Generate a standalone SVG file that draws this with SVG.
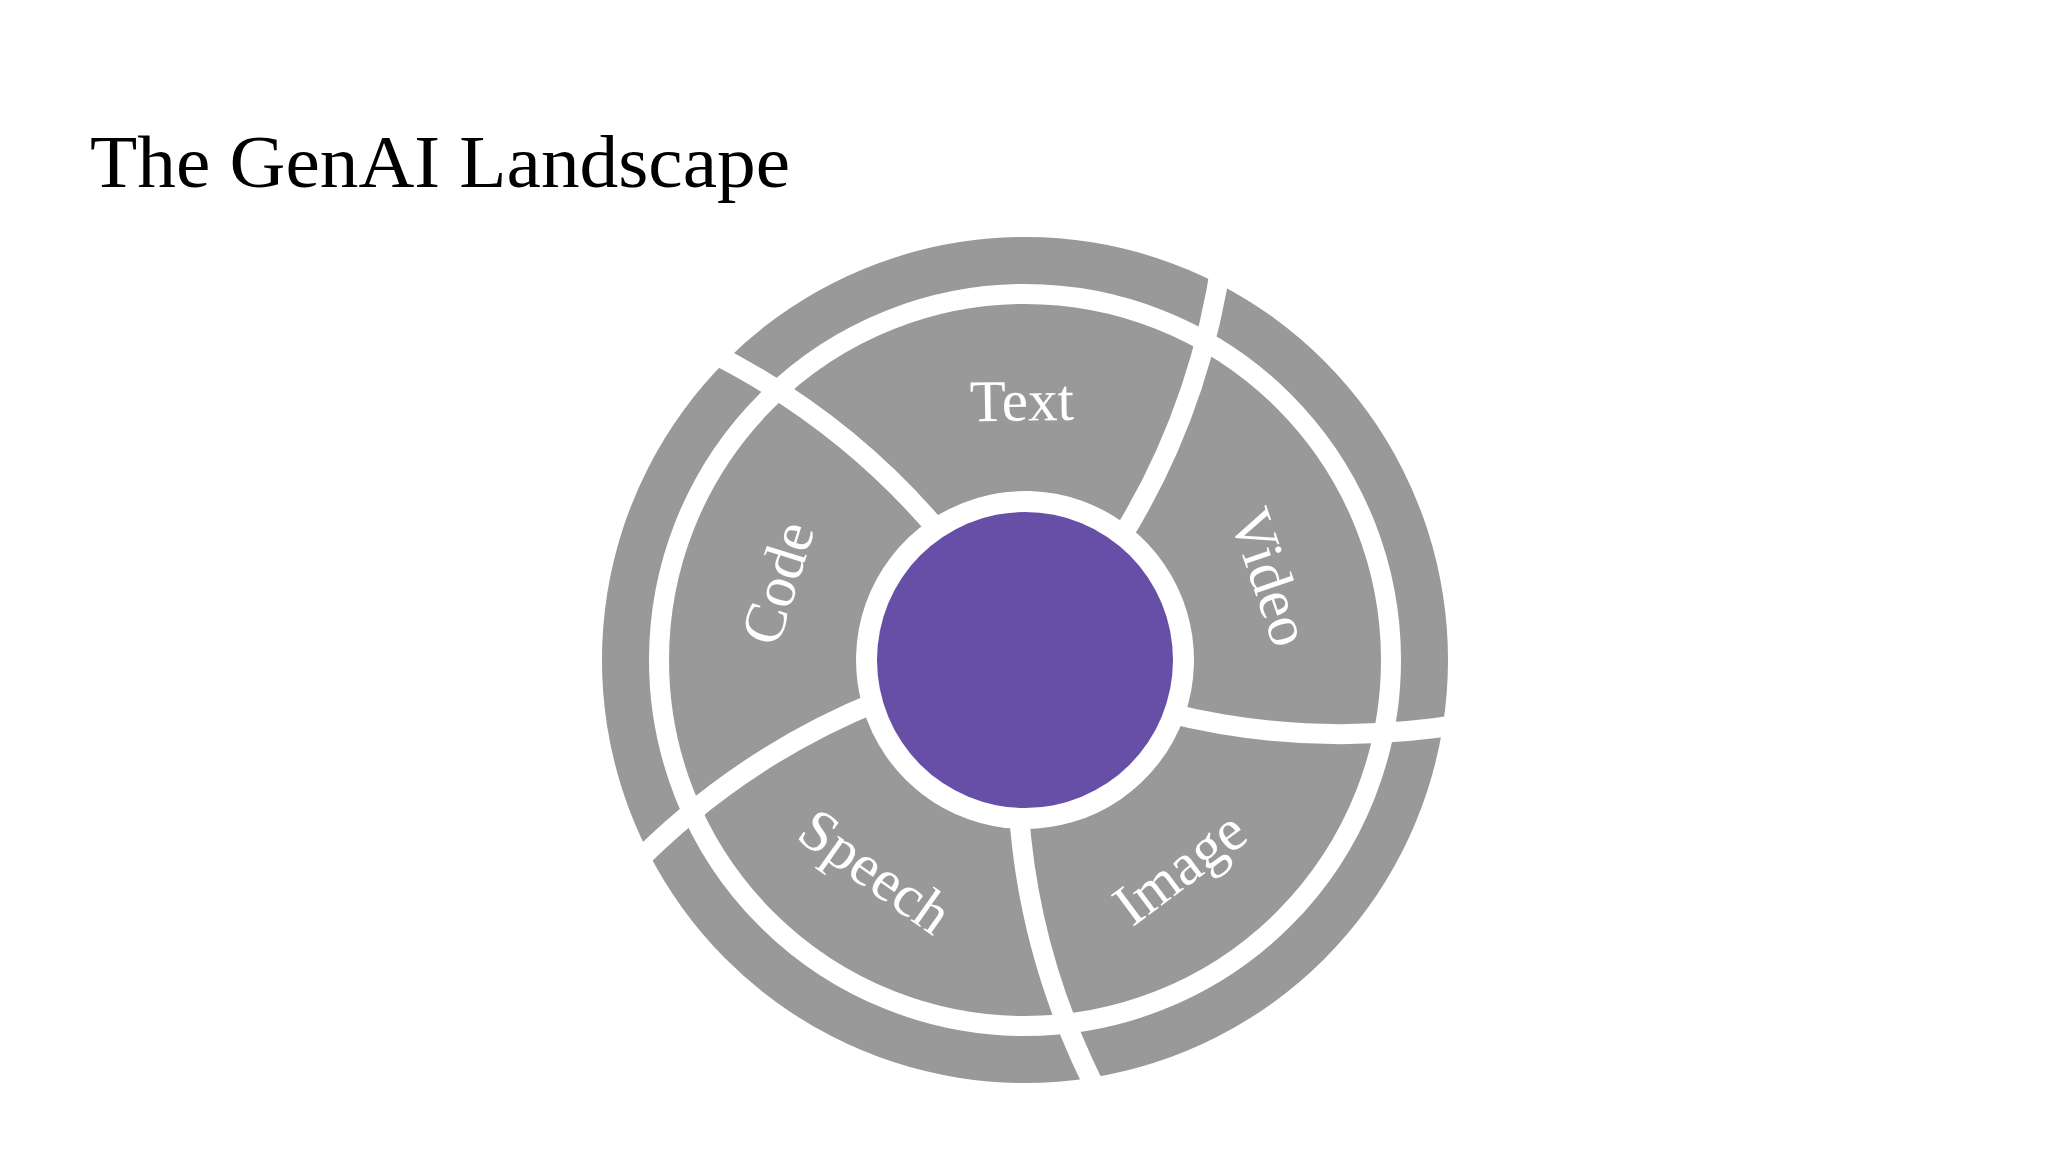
<svg xmlns="http://www.w3.org/2000/svg" xmlns:xlink="http://www.w3.org/1999/xlink" width="2048" height="1152" viewBox="0 0 2048 1152">
  <style>
    .seg { fill: #999999; }
    .gap { fill: none; stroke: #ffffff; stroke-width: 20; stroke-linejoin: round; stroke-linecap: butt; }
    .lbl { font-family: "Liberation Serif", "Times New Roman", serif; font-size: 59px; fill: #ffffff; text-anchor: middle; }
    .title { font-family: "Liberation Serif", "Times New Roman", serif; font-size: 73px; fill: #000000; }
  </style>
  <defs>
    <path id="wedge" d="M 1128.1,526.1 L 1143.5,498.9 L 1161.5,462.6 L 1177.6,425.2 L 1191.5,386.8 L 1203.4,347.3 L 1213.2,307.0 L 1217.8,283.5 A 423 423 0 0 0 726.4,360.3 L 747.4,372.0 L 782.8,393.7 L 816.6,417.1 L 848.9,442.4 L 879.5,469.2 L 908.3,497.6 L 929.5,520.6 A 169 169 0 0 1 1128.1,526.1 Z"/>
    <path id="sep" d="M 941.97,535.08 C 877.62,457.78 795.76,393.54 701.3,347.4"/>
  </defs>
  <rect x="0" y="0" width="2048" height="1152" fill="#ffffff"/>
  <text class="title" x="90" y="187" textLength="700" lengthAdjust="spacingAndGlyphs">The GenAI Landscape</text>

  <g id="segment-text">
    <use xlink:href="#wedge" href="#wedge" class="seg"/>
  </g>
  <g id="segment-video">
    <use xlink:href="#wedge" href="#wedge" class="seg" transform="rotate(72 1025 660)"/>
  </g>
  <g id="segment-image">
    <use xlink:href="#wedge" href="#wedge" class="seg" transform="rotate(144 1025 660)"/>
  </g>
  <g id="segment-speech">
    <use xlink:href="#wedge" href="#wedge" class="seg" transform="rotate(216 1025 660)"/>
  </g>
  <g id="segment-code">
    <use xlink:href="#wedge" href="#wedge" class="seg" transform="rotate(288 1025 660)"/>
  </g>

  <g id="connectors">
    <circle cx="1025" cy="660" r="366" class="gap"/>
    <use xlink:href="#sep" href="#sep" class="gap"/>
    <use xlink:href="#sep" href="#sep" class="gap" transform="rotate(72 1025 660)"/>
    <use xlink:href="#sep" href="#sep" class="gap" transform="rotate(144 1025 660)"/>
    <use xlink:href="#sep" href="#sep" class="gap" transform="rotate(216 1025 660)"/>
    <use xlink:href="#sep" href="#sep" class="gap" transform="rotate(288 1025 660)"/>
  </g>

  <g id="center">
    <circle cx="1025" cy="660" r="148" fill="#674ea7"/>
  </g>

  <g id="labels">
    <text class="lbl" transform="translate(1021.8 401) rotate(-0.7)" x="0" y="19.5">Text</text>
    <text class="lbl" transform="translate(1270.3 577) rotate(71.3)" x="0" y="19.5">Video</text>
    <text class="lbl" transform="translate(1179.8 867.7) rotate(-36.7)" x="0" y="19.5">Image</text>
    <text class="lbl" transform="translate(875.3 871.4) rotate(35.3)" x="0" y="19.5">Speech</text>
    <text class="lbl" transform="translate(777.7 583) rotate(-72.7)" x="0" y="19.5">Code</text>
  </g>
</svg>
